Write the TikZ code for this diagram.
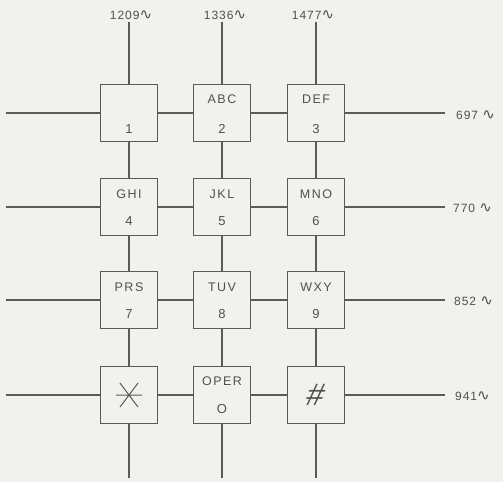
\documentclass[tikz,border=0pt]{standalone}
\usepackage{fontspec}
\setmainfont{Liberation Sans}
\newfontfamily\symfont{DejaVu Sans}
\definecolor{bgc}{HTML}{F1F1EE}
\definecolor{ink}{HTML}{5A5A58}
\definecolor{txt}{HTML}{505050}
\newcommand{\sinewave}{{\symfont\fontsize{15}{15}\selectfont ∿}}
\begin{document}
\begin{tikzpicture}[x=1pt,y=-1pt,
  wire/.style={draw=ink,line width=1.1pt},
  keybox/.style={draw=ink,line width=1.1pt,minimum size=57pt,inner sep=0pt,fill=bgc},
  lett/.style={text=txt,font=\fontsize{12.5}{13}\selectfont\addfontfeature{LetterSpace=12},inner sep=0pt},
  numb/.style={text=txt,font=\fontsize{13}{13}\selectfont,inner sep=0pt},
  freq/.style={text=txt,font=\fontsize{12}{12}\selectfont\addfontfeature{LetterSpace=8},inner sep=0pt}]
\fill[bgc] (0,0) rectangle (503,482);
\useasboundingbox (0,0) rectangle (503,482);
% columns 129,222,316 ; rows 113,207,300,395
\foreach \c/\x in {a/129,b/222,c/316}{
  \coordinate (top\c) at (\x,22);
  \coordinate (bot\c) at (\x,478);
}
\foreach \r/\y in {1/113,2/207,3/300,4/395}{
  \coordinate (lft\r) at (6,\y);
  \coordinate (rgt\r) at (445,\y);
}
\node[keybox] (k1) at (129,113) {};
\node[keybox] (k2) at (222,113) {};
\node[keybox] (k3) at (316,113) {};
\node[keybox] (k4) at (129,207) {};
\node[keybox] (k5) at (222,207) {};
\node[keybox] (k6) at (316,207) {};
\node[keybox] (k7) at (129,300) {};
\node[keybox] (k8) at (222,300) {};
\node[keybox] (k9) at (316,300) {};
\node[keybox] (ks) at (129,395) {};
\node[keybox] (k0) at (222,395) {};
\node[keybox] (kh) at (316,395) {};
% wires
\draw[wire] (lft1) -- (k1) (k1) -- (k2) (k2) -- (k3) (k3) -- (rgt1);
\draw[wire] (lft2) -- (k4) (k4) -- (k5) (k5) -- (k6) (k6) -- (rgt2);
\draw[wire] (lft3) -- (k7) (k7) -- (k8) (k8) -- (k9) (k9) -- (rgt3);
\draw[wire] (lft4) -- (ks) (ks) -- (k0) (k0) -- (kh) (kh) -- (rgt4);
\draw[wire] (topa) -- (k1) (k1) -- (k4) (k4) -- (k7) (k7) -- (ks) (ks) -- (bota);
\draw[wire] (topb) -- (k2) (k2) -- (k5) (k5) -- (k8) (k8) -- (k0) (k0) -- (botb);
\draw[wire] (topc) -- (k3) (k3) -- (k6) (k6) -- (k9) (k9) -- (kh) (kh) -- (botc);
% key texts
\node[numb] (n1) at ([yshift=-16pt]k1.center) {1};
\node[lett] (l2) at ([yshift=14pt]k2.center) {ABC};
\node[numb] (n2) at ([yshift=-16pt]k2.center) {2};
\node[lett] (l3) at ([yshift=14pt]k3.center) {DEF};
\node[numb] (n3) at ([yshift=-16pt]k3.center) {3};
\node[lett] (l4) at ([yshift=13pt]k4.center) {GHI};
\node[numb] (n4) at ([yshift=-14pt]k4.center) {4};
\node[lett] (l5) at ([yshift=13pt]k5.center) {JKL};
\node[numb] (n5) at ([yshift=-14pt]k5.center) {5};
\node[lett] (l6) at ([yshift=13pt]k6.center) {MNO};
\node[numb] (n6) at ([yshift=-14pt]k6.center) {6};
\node[lett] (l7) at ([yshift=13pt]k7.center) {PRS};
\node[numb] (n7) at ([yshift=-14pt]k7.center) {7};
\node[lett] (l8) at ([yshift=13pt]k8.center) {TUV};
\node[numb] (n8) at ([yshift=-14pt]k8.center) {8};
\node[lett] (l9) at ([yshift=13pt]k9.center) {WXY};
\node[numb] (n9) at ([yshift=-14pt]k9.center) {9};
\node[lett] (l0) at ([yshift=14pt]k0.center) {OPER};
\node[numb] (n0) at ([yshift=-14pt]k0.center) {O};
% star symbol
\draw[ink,line width=1pt] ([xshift=-13pt]ks.center) -- ([xshift=13pt]ks.center)
  ([xshift=-9pt,yshift=12pt]ks.center) -- ([xshift=9pt,yshift=-12pt]ks.center)
  ([xshift=9pt,yshift=12pt]ks.center) -- ([xshift=-9pt,yshift=-12pt]ks.center);
\node[text=txt,font=\fontsize{31}{31}\selectfont,inner sep=0pt,xslant=0.25] (hs) at (kh.center) {\#};
% frequency labels
\node[freq] (f1209) at (131,15) {1209\sinewave};
\node[freq] (f1336) at (225,15) {1336\sinewave};
\node[freq] (f1477) at (313,15) {1477\sinewave};
\node[freq,anchor=west] (f697) at (456,115) {697 \sinewave};
\node[freq,anchor=west] (f770) at (453,208) {770 \sinewave};
\node[freq,anchor=west] (f852) at (454,301) {852 \sinewave};
\node[freq,anchor=west] (f941) at (455,396) {941\sinewave};
\end{tikzpicture}
\end{document}
